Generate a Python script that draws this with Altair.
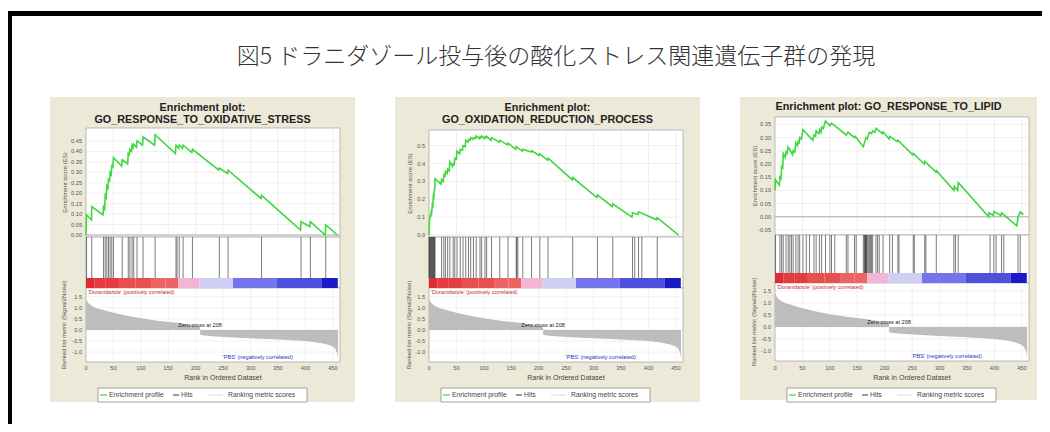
import altair as alt
import pandas as pd

# ---------------- text ----------------
MAIN_TITLE = "図5 ドラニダゾール投与後の酸化ストレス関連遺伝子群の発現"
PANEL_TITLES = [
    ["Enrichment plot:", "GO_RESPONSE_TO_OXIDATIVE_STRESS"],
    ["Enrichment plot:", "GO_OXIDATION_REDUCTION_PROCESS"],
    ["Enrichment plot: GO_RESPONSE_TO_LIPID"],
]
POS_LABEL = "'Doranidazole' (positively correlated)"
NEG_LABEL = "'PBS' (negatively correlated)"
ZERO_CROSS = 208
ZERO_LABEL = "Zero cross at 208"
X_TITLE = "Rank in Ordered Dataset"
ES_TITLE = "Enrichment score (ES)"
METRIC_TITLE = "Ranked list metric (Signal2Noise)"
LEGEND_LABELS = ["Enrichment profile", "Hits", "Ranking metric scores"]

# ---------------- ticks ----------------
RANK_TICKS = [0, 50, 100, 150, 200, 250, 300, 350, 400, 450]
METRIC_TICKS = [-1.0, -0.5, 0.0, 0.5, 1.0, 1.5]
P1_ES_TICKS = [0.00, 0.05, 0.10, 0.15, 0.20, 0.25, 0.30, 0.35, 0.40, 0.45]
P2_ES_TICKS = [0.0, 0.1, 0.2, 0.3, 0.4, 0.5]
P3_ES_TICKS = [-0.05, 0.00, 0.05, 0.10, 0.15, 0.20, 0.25, 0.30, 0.35]

# ---------------- panel 1: running enrichment score & hits ----------------
P1_ES_RANK = [0, 1, 10, 10.5, 31, 32, 34, 35, 37, 38, 40, 41, 43, 44, 46, 47, 49, 50,
              65, 66, 76, 77, 79, 80, 83, 84, 86, 87, 92, 93, 103, 104, 125, 126,
              163, 164, 169, 170, 176, 177, 193, 194, 242, 243, 258, 259, 319, 320,
              391, 392, 408, 409, 436, 437, 458]
P1_ES = [0.0, 0.096, 0.072, 0.136, 0.096, 0.135, 0.125, 0.19, 0.18, 0.235, 0.225, 0.265,
         0.26, 0.30, 0.29, 0.33, 0.325, 0.37,
         0.33, 0.36, 0.34, 0.39, 0.385, 0.41, 0.40, 0.43, 0.42, 0.435, 0.42, 0.45, 0.43, 0.47,
         0.43, 0.48,
         0.39, 0.43, 0.415, 0.43, 0.415, 0.43, 0.395, 0.41, 0.31, 0.32, 0.295, 0.31, 0.175, 0.19,
         0.024, 0.064, 0.04, 0.064, 0.0, 0.048, 0.0]
P1_HITS = [1, 10.5, 32, 35, 38, 41, 44, 47, 50, 66, 77, 80, 84, 87, 93, 104, 126,
           164, 166, 170, 177, 194, 243, 259, 320, 392, 409, 437]

# ---------------- panel 2 ----------------
P2_ES_RANK = [0, 0.6, 2, 3, 4, 5, 6, 7, 8, 9, 10, 10.5, 11, 22, 23, 26, 27, 29, 30, 33, 34,
              37, 38, 43, 44, 46, 47, 50, 51, 56, 57, 61, 62, 66, 67, 71, 72, 75, 76, 80, 81,
              85, 86, 92, 93, 95, 96, 101, 102, 104, 105, 113, 114, 128, 129, 143, 144, 158,
              159, 170, 171, 186, 187, 201, 202, 216, 217, 261, 262, 306, 307, 334, 335, 370,
              371, 381, 382, 415, 416, 455]
P2_ES = [0.0, 0.07, 0.11, 0.10, 0.13, 0.125, 0.17, 0.165, 0.22, 0.215, 0.26, 0.255, 0.315,
         0.285, 0.31, 0.30, 0.335, 0.33, 0.355, 0.345, 0.37,
         0.36, 0.41, 0.385, 0.40, 0.395, 0.43, 0.425, 0.47, 0.455, 0.48, 0.475, 0.50, 0.495,
         0.53, 0.52, 0.535, 0.53, 0.545, 0.535, 0.545,
         0.54, 0.555, 0.54, 0.55, 0.545, 0.555, 0.54, 0.55, 0.545, 0.552, 0.53, 0.545, 0.52,
         0.53, 0.505, 0.515, 0.48,
         0.495, 0.47, 0.48, 0.465, 0.472, 0.445, 0.455, 0.42, 0.43, 0.31, 0.322, 0.21, 0.225,
         0.16, 0.175, 0.10,
         0.125, 0.115, 0.13, 0.085, 0.097, 0.0]
P2_HITS = [0, 1, 2, 3, 4, 5, 6, 7, 8, 9, 10, 11, 23, 27, 30, 34, 38, 44, 47, 51, 57, 62, 67,
           72, 76, 81, 86, 93, 96, 102, 105, 114, 129, 144, 159, 160, 162, 171, 187, 202, 217,
           262, 307, 335, 371, 375, 382, 388, 416]

# ---------------- panel 3 ----------------
P3_ES_RANK = [0, 1, 8, 9, 11, 12, 14, 15, 19, 20, 22, 24, 32, 33, 36, 38, 41, 42, 44, 45, 48,
              51, 69, 71, 74, 75, 80, 81.5, 84, 85, 88, 92, 100, 103, 130, 133, 145, 146, 161,
              163, 166, 168, 172, 176, 178, 182, 184, 196, 197, 208, 209, 223, 224, 251, 252,
              272, 273, 293, 294, 326, 327, 333, 334, 389.5, 390, 398, 399, 412, 413, 441, 443,
              447, 453]
P3_ES = [0.10, 0.14, 0.12, 0.15, 0.145, 0.19, 0.185, 0.24, 0.225, 0.245, 0.24, 0.265, 0.235,
         0.25, 0.245, 0.28, 0.27, 0.285, 0.28, 0.30, 0.295,
         0.33, 0.29, 0.31, 0.305, 0.325, 0.315, 0.33, 0.32, 0.34, 0.335, 0.363, 0.345, 0.355,
         0.31, 0.32, 0.30, 0.305, 0.265,
         0.28, 0.30, 0.295, 0.32, 0.315, 0.325, 0.32, 0.335, 0.315, 0.322, 0.295, 0.305, 0.285,
         0.29, 0.235, 0.24,
         0.20, 0.21, 0.17, 0.175, 0.10, 0.115, 0.10, 0.13, 0.0, 0.015, 0.005, 0.02, 0.005, 0.015,
         -0.035, 0.0,
         0.018, 0.008]
P3_HITS = [1, 9, 12, 15, 20, 24, 27, 30, 33, 38, 42, 45, 51, 57, 63, 71, 75, 81, 85, 92, 100,
           103, 109, 130, 133, 145, 148, 161, 163, 164, 165, 166, 167, 168, 170, 172, 174, 176,
           178, 184, 187, 190, 197, 209, 214, 224, 226, 252, 254, 273, 275, 294, 326, 329, 334,
           392, 399, 403, 413, 417, 443, 447]

# ---------------- shared ranked list metric ----------------
METRIC_RANK = [0, 2, 5, 10, 18, 25, 35, 50, 75, 100, 130, 165, 190, 205, 207.9, 208.1, 215,
               230, 260, 300, 350, 400, 425, 440, 450, 455, 458, 459.5]
METRIC_VAL = [1.42, 1.3, 1.2, 1.1, 1.0, 0.95, 0.88, 0.78, 0.64, 0.53, 0.42, 0.33, 0.24, 0.18,
              0.15, -0.22, -0.25, -0.28, -0.33, -0.38, -0.43, -0.5, -0.58, -0.66, -0.75, -0.88,
              -1.05, -1.3]

# colour-bar segments of the ranked list (rank start, rank end, heat level)
BAR_START = [0, 15, 35, 60, 90, 120, 145, 168, 207, 268, 348, 430]
BAR_END = [15, 35, 60, 90, 120, 145, 168, 207, 268, 348, 430, 459]
BAR_LEVEL = [6, 5, 5, 4, 4, 3, 3, 1, -1, -2, -3, -4]
HEAT_LEVELS = [6, 5, 4, 3, 1, -1, -2, -3, -4]
HEAT_COLORS = ["#e02c30", "#e43c40", "#e85050", "#ec6464", "#f2b6d4",
               "#cfcff4", "#7474ec", "#4f4fde", "#1a1ac6"]

N_MAX = 463

# ---------------- layout (page pixels) ----------------
OFF = 8


def c(v):
    return v - OFF


PANELS = [
    dict(left=50, right=355, top=97, bottom=402, pl=86, pr=340, ty=[108, 120],
         es=(128, 237), hits=(237, 277), bar=(278, 288), rk=(288, 362),
         esdom=[-0.0096, 0.512], rkdom=[-1.45, 1.9], fmt="{:.2f}",
         rank=P1_ES_RANK, es_v=P1_ES, hits_v=P1_HITS, ticks=P1_ES_TICKS, zero=True),
    dict(left=395, right=700, top=97, bottom=402, pl=429, pr=683, ty=[108, 120],
         es=(130, 237), hits=(237, 277), bar=(278, 288), rk=(288, 362),
         esdom=[-0.011, 0.588], rkdom=[-1.45, 1.9], fmt="{:.1f}",
         rank=P2_ES_RANK, es_v=P2_ES, hits_v=P2_HITS, ticks=P2_ES_TICKS, zero=False),
    dict(left=740, right=1037, top=97, bottom=400, pl=775, pr=1029, ty=[107],
         es=(117, 235), hits=(235, 273), bar=(273, 283), rk=(283, 361),
         esdom=[-0.069, 0.378], rkdom=[-1.42, 1.83], fmt="{:.2f}",
         rank=P3_ES_RANK, es_v=P3_ES, hits_v=P3_HITS, ticks=P3_ES_TICKS, zero=True),
]

ONE = pd.DataFrame({"k": [0]})
FONT = "Liberation Sans"


def box(x1, x2, y1, y2, **mk):
    return alt.Chart(ONE).mark_rect(**mk).encode(
        x=alt.value(c(x1)), x2=alt.value(c(x2)), y=alt.value(c(y1)), y2=alt.value(c(y2)))


def label(x, y, text, **mk):
    return alt.Chart(ONE).mark_text(text=text, font=FONT, **mk).encode(
        x=alt.value(c(x)), y=alt.value(c(y)))


def hline(x1, x2, y, **mk):
    return alt.Chart(ONE).mark_rule(**mk).encode(
        x=alt.value(c(x1)), x2=alt.value(c(x2)), y=alt.value(c(y)))


def xs(P):
    return alt.Scale(domain=[0, N_MAX], range=[c(P["pl"]), c(P["pr"])], nice=False, zero=False)


def ys(dom, rng):
    return alt.Scale(domain=dom, range=[c(rng[1]), c(rng[0])], nice=False, zero=False)


layers = []

# outer frame
layers.append(box(OFF, OFF + 4, 11, 432, color="#000000"))
layers.append(box(OFF, 1050, 11, 16, color="#000000"))
layers.append(label(556, 57, MAIN_TITLE, fontSize=23, color="#333333",
                    align="center", baseline="middle").properties())
layers[-1] = alt.Chart(ONE).mark_text(text=MAIN_TITLE, font="Noto Sans CJK JP", fontSize=23,
                                      fontWeight=300, color="#333333", align="center",
                                      baseline="middle").encode(x=alt.value(c(556)),
                                                                y=alt.value(c(57)))

for i, P in enumerate(PANELS):
    pl, pr = P["pl"], P["pr"]
    e0, e1 = P["es"]
    h0, h1 = P["hits"]
    b0, b1 = P["bar"]
    r0, r1 = P["rk"]
    # panel background
    layers.append(box(P["left"], P["right"], P["top"], P["bottom"], color="#ECE9D8"))
    # titles
    cx = (P["left"] + P["right"]) / 2
    for t, ty in zip(PANEL_TITLES[i], P["ty"]):
        layers.append(label(cx, ty, t, fontSize=10.8, fontWeight="bold", color="#222222",
                            align="center", baseline="middle"))
    # plot boxes
    layers.append(box(pl, pr, e0, e1, fill="#ffffff", stroke="#a0a0a0", strokeWidth=0.7))
    layers.append(box(pl, pr, h0, b1, fill="#ffffff", stroke="#a0a0a0", strokeWidth=0.7))
    layers.append(box(pl, pr, r0, r1, fill="#ffffff", stroke="#a0a0a0", strokeWidth=0.7))

    # ES grid
    gx = pd.DataFrame({"v": RANK_TICKS[1:]})
    layers.append(alt.Chart(gx).mark_rule(color="#e4e4e4", strokeWidth=0.6).encode(
        x=alt.X("v:Q", scale=xs(P), axis=None), y=alt.value(c(e0)), y2=alt.value(c(e1))))
    gy = pd.DataFrame({"v": P["ticks"]})
    layers.append(alt.Chart(gy).mark_rule(color="#e4e4e4", strokeWidth=0.6).encode(
        y=alt.Y("v:Q", scale=ys(P["esdom"], P["es"]), axis=None),
        x=alt.value(c(pl)), x2=alt.value(c(pr))))
    if P["zero"]:
        layers.append(alt.Chart(pd.DataFrame({"v": [0.0]})).mark_rule(
            color="#9a9a9a", strokeWidth=0.8).encode(
            y=alt.Y("v:Q", scale=ys(P["esdom"], P["es"]), axis=None),
            x=alt.value(c(pl)), x2=alt.value(c(pr))))
    # ES line
    esdf = pd.DataFrame({"rank": P["rank"], "es": P["es_v"], "i": range(len(P["rank"]))})
    layers.append(alt.Chart(esdf).mark_line(color="#3fd83f", strokeWidth=1.6).encode(
        x=alt.X("rank:Q", scale=xs(P), axis=None),
        y=alt.Y("es:Q", scale=ys(P["esdom"], P["es"]), axis=None),
        order=alt.Order("i:Q")))
    # ES tick labels
    tl = pd.DataFrame({"v": P["ticks"], "lab": [P["fmt"].format(v) for v in P["ticks"]]})
    layers.append(alt.Chart(tl).mark_text(font=FONT, fontSize=5.6, color="#555555",
                                          align="right", baseline="middle").encode(
        x=alt.value(c(pl - 4)), y=alt.Y("v:Q", scale=ys(P["esdom"], P["es"]), axis=None),
        text="lab:N"))
    layers.append(alt.Chart(ONE).mark_text(text=ES_TITLE, font=FONT, fontSize=6, angle=270,
                                           color="#555555", align="center",
                                           baseline="middle").encode(
        x=alt.value(c(P["left"] + 15)), y=alt.value(c((e0 + e1) / 2))))

    # hits
    hd = pd.DataFrame({"rank": P["hits_v"]})
    layers.append(alt.Chart(hd).mark_rule(color="#222222", strokeWidth=0.8, opacity=0.75).encode(
        x=alt.X("rank:Q", scale=xs(P), axis=None), y=alt.value(c(h0)), y2=alt.value(c(b0))))
    # colour bar
    bd = pd.DataFrame({"s": BAR_START, "e": BAR_END, "lvl": BAR_LEVEL})
    layers.append(alt.Chart(bd).mark_rect().encode(
        x=alt.X("s:Q", scale=xs(P), axis=None), x2="e:Q",
        y=alt.value(c(b0)), y2=alt.value(c(b1)),
        color=alt.Color("lvl:O", scale=alt.Scale(domain=HEAT_LEVELS, range=HEAT_COLORS),
                        legend=None)))

    # ranked list grid
    layers.append(alt.Chart(gx).mark_rule(color="#e8e8e8", strokeWidth=0.6).encode(
        x=alt.X("v:Q", scale=xs(P), axis=None), y=alt.value(c(r0)), y2=alt.value(c(r1))))
    gm = pd.DataFrame({"v": METRIC_TICKS})
    layers.append(alt.Chart(gm).mark_rule(color="#e8e8e8", strokeWidth=0.6).encode(
        y=alt.Y("v:Q", scale=ys(P["rkdom"], P["rk"]), axis=None),
        x=alt.value(c(pl)), x2=alt.value(c(pr))))
    md = pd.DataFrame({"rank": METRIC_RANK, "m": METRIC_VAL})
    layers.append(alt.Chart(md).mark_area(color="#bdbdbd").encode(
        x=alt.X("rank:Q", scale=xs(P), axis=None),
        y=alt.Y("m:Q", scale=ys(P["rkdom"], P["rk"]), axis=None),
        y2=alt.datum(0)))
    ml = pd.DataFrame({"v": METRIC_TICKS, "lab": ["{:.1f}".format(v) for v in METRIC_TICKS]})
    layers.append(alt.Chart(ml).mark_text(font=FONT, fontSize=5.6, color="#555555",
                                          align="right", baseline="middle").encode(
        x=alt.value(c(pl - 4)), y=alt.Y("v:Q", scale=ys(P["rkdom"], P["rk"]), axis=None),
        text="lab:N"))
    layers.append(alt.Chart(ONE).mark_text(text=METRIC_TITLE, font=FONT, fontSize=6, angle=270,
                                           color="#555555", align="center",
                                           baseline="middle").encode(
        x=alt.value(c(P["left"] + 14)), y=alt.value(c((r0 + r1) / 2))))
    # annotations in the ranked list plot
    layers.append(label(pl + 2, r0 + 4, POS_LABEL, fontSize=5.4, color="#d02828",
                        align="left", baseline="middle"))
    zd = pd.DataFrame({"rank": [ZERO_CROSS], "m": [0.22], "t": [ZERO_LABEL]})
    layers.append(alt.Chart(zd).mark_text(font=FONT, fontSize=5.6, color="#222222",
                                          align="center", baseline="middle").encode(
        x=alt.X("rank:Q", scale=xs(P), axis=None),
        y=alt.Y("m:Q", scale=ys(P["rkdom"], P["rk"]), axis=None), text="t:N"))
    nd = pd.DataFrame({"rank": [313], "m": [-1.22], "t": [NEG_LABEL]})
    layers.append(alt.Chart(nd).mark_text(font=FONT, fontSize=5.6, color="#3030c0",
                                          align="center", baseline="middle").encode(
        x=alt.X("rank:Q", scale=xs(P), axis=None),
        y=alt.Y("m:Q", scale=ys(P["rkdom"], P["rk"]), axis=None), text="t:N"))
    # x tick labels + title
    xl = pd.DataFrame({"v": RANK_TICKS, "lab": [str(v) for v in RANK_TICKS]})
    layers.append(alt.Chart(xl).mark_text(font=FONT, fontSize=5.6, color="#555555",
                                          align="center", baseline="middle").encode(
        x=alt.X("v:Q", scale=xs(P), axis=None), y=alt.value(c(368)), text="lab:N"))
    layers.append(label(pl + 137, 378, X_TITLE, fontSize=7, color="#444444",
                        align="center", baseline="middle"))
    # legend
    layers.append(box(pl + 12, pl + 221, 388, 402, fill="#ffffff", stroke="#8a8a8a",
                      strokeWidth=0.8))
    layers.append(hline(pl + 14, pl + 21, 395, color="#3fd83f", strokeWidth=1.2))
    layers.append(label(pl + 23, 395, LEGEND_LABELS[0], fontSize=6.8, color="#444444",
                        align="left", baseline="middle"))
    layers.append(hline(pl + 87, pl + 93, 395, color="#333333", strokeWidth=1))
    layers.append(label(pl + 95, 395, LEGEND_LABELS[1], fontSize=6.8, color="#444444",
                        align="left", baseline="middle"))
    layers.append(hline(pl + 122, pl + 137, 395, color="#d8d8d8", strokeWidth=1))
    layers.append(label(pl + 142, 395, LEGEND_LABELS[2], fontSize=6.8, color="#444444",
                        align="left", baseline="middle"))

chart = alt.layer(*layers).resolve_scale(
    x="independent", y="independent", color="independent"
).properties(
    width=1034, height=416, padding=0, autosize=alt.AutoSizeParams(type="none"),
    background="#ffffff"
).configure_view(strokeWidth=0)

chart.save("out.html", embed_options={"renderer": "svg", "actions": False})
